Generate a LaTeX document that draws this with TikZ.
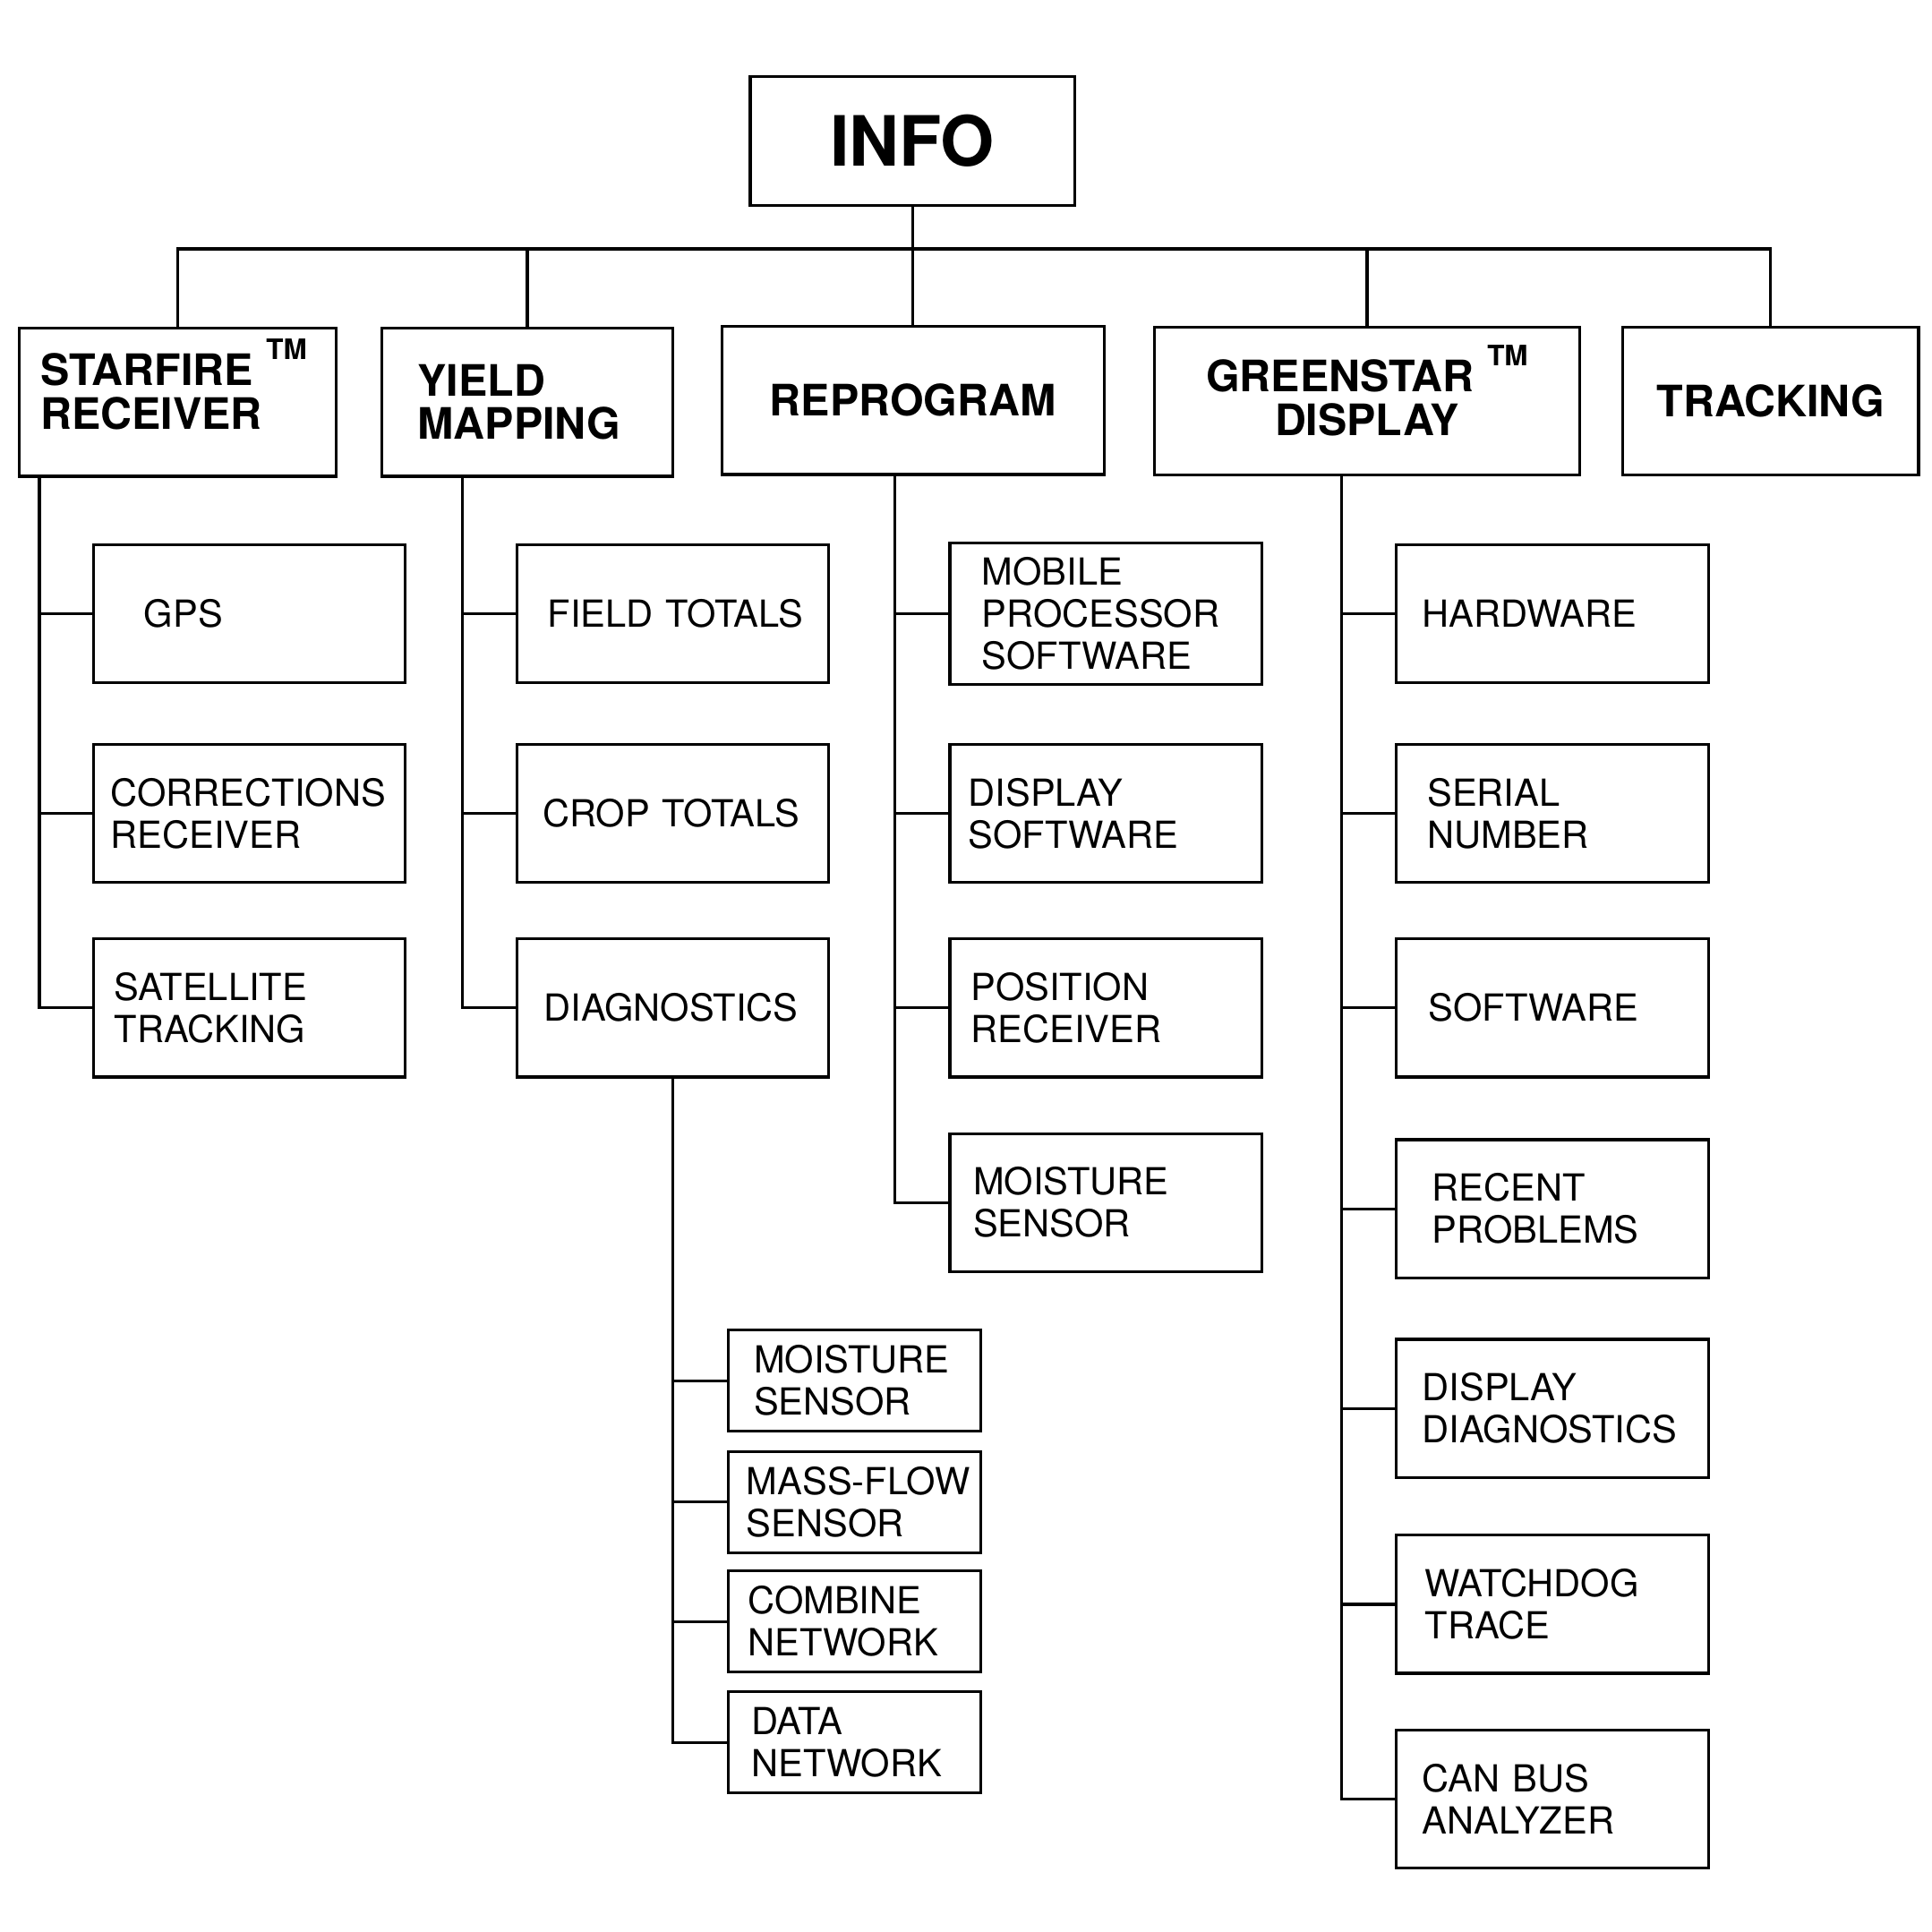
\documentclass[tikz,border=0pt]{standalone}
\usepackage{fontspec}
\setmainfont{TeX Gyre Heros}
\usetikzlibrary{positioning}
\hyphenpenalty=10000
\exhyphenpenalty=10000
\newcommand{\trademark}{\nobreak\hspace{0.3em}\raisebox{0.6em}[0pt][0pt]{\fontsize{6.5}{7}\selectfont TM}}

\begin{document}
\begin{tikzpicture}[
                x=0.01cm, y=-0.01cm, line width=0.65pt,
                topbox/.style={draw, minimum height=1.2cm, align=center, font=\fontsize{10}{10}\selectfont\bfseries},
                leftbox/.style={topbox, align=left, inner xsep=#1},
                leaf/.style={draw, minimum width=2.53cm, minimum height=1.12cm, inner xsep=#1, text width=2.53cm-2*#1, align=left, font=\fontsize{8.6}{9.7}\selectfont},
                subleaf/.style={leaf=#1, minimum width=2.05cm, minimum height=0.82cm, text width=2.05cm-2*#1}
            ]
                \useasboundingbox (0,0) rectangle (1568,1568);

                % root
                \node[draw, minimum width=2.63cm, minimum height=1.05cm, font=\fontsize{16}{16}\selectfont\bfseries] (info) at (740.5,114.5) {INFO};

                % first level
                \node[leftbox=0.17cm, minimum width=2.57cm, text width=2.23cm, text depth=0.53cm] (starfire) at (144.5,326.5) {STARFIRE\trademark\\RECEIVER};
                \node[leftbox=0.29cm, minimum width=2.36cm, text width=1.78cm] (yield) at (428,326.5) {YIELD\\MAPPING};
                \node[topbox, minimum width=3.10cm] (reprogram) at (741,325) {REPROGRAM};
                \node[topbox, minimum width=3.45cm, text depth=0.06cm] (greenstar) at (1109.5,325.5) {GREENSTAR\trademark\\DISPLAY};
                \node[topbox, minimum width=2.40cm] (tracking) at (1437,325.5) {TRACKING};

                \coordinate (bus) at (741,202);
                \draw (info.south) -- (info.south |- bus);
                \draw (starfire.north) |- (bus) -| (tracking.north);
                \foreach \n in {yield, reprogram, greenstar}
                    \draw (\n.north) -- (\n.north |- bus);

                % starfire receiver
                \node[leaf=0.41cm] (gps) at (202.5,498) {GPS};
                \node[leaf=0.14cm] (corrections) at (202.5,660) {CORRECTIONS\\RECEIVER};
                \node[leaf=0.17cm] (satellite) at (202.5,818) {SATELLITE\\TRACKING};

                % yield mapping
                \node[leaf=0.25cm] (field) at (546,498) {FIELD~TOTALS};
                \node[leaf=0.21cm] (crop) at (546,660) {CROP~TOTALS};
                \node[leaf=0.22cm] (diagnostics) at (546,818) {DIAGNOSTICS};

                % diagnostics
                \node[subleaf=0.21cm] (dgmoisture) at (693.5,1120.5) {MOISTURE\\SENSOR};
                \node[subleaf=0.15cm] (massflow) at (693.5,1219) {MASS-FLOW\\SENSOR};
                \node[subleaf=0.16cm] (combine) at (693.5,1316) {COMBINE\\NETWORK};
                \node[subleaf=0.19cm] (datanet) at (693.5,1414) {DATA\\NETWORK};

                % reprogram
                \node[leaf=0.26cm] (mobile) at (897.5,498) {MOBILE\\PROCESSOR\\SOFTWARE};
                \node[leaf=0.15cm] (dispsw) at (897.5,660) {DISPLAY\\SOFTWARE};
                \node[leaf=0.17cm] (position) at (897.5,818) {POSITION\\RECEIVER};
                \node[leaf=0.19cm] (rpmoisture) at (897.5,976) {MOISTURE\\SENSOR};

                % greenstar display
                \node[leaf=0.21cm] (hardware) at (1260,498) {HARDWARE};
                \node[leaf=0.25cm] (serial) at (1260,660) {SERIAL\\NUMBER};
                \node[leaf=0.26cm] (software) at (1260,818) {SOFTWARE};
                \node[leaf=0.29cm] (recent) at (1260,981) {RECENT\\PROBLEMS};
                \node[leaf=0.21cm] (dispdiag) at (1260,1143) {DISPLAY\\DIAGNOSTICS};
                \node[leaf=0.23cm] (watchdog) at (1260,1302) {WATCHDOG\\TRACE};
                \node[leaf=0.21cm] (canbus) at (1260,1460) {CAN~BUS\\ANALYZER};

                % branches
                \coordinate (sftrunk) at (32,386);
                \coordinate (ymtrunk) at (375,386);
                \coordinate (rptrunk) at (726,385);
                \coordinate (gstrunk) at (1089,386);
                \foreach \n in {gps, corrections, satellite}
                    \draw (sftrunk) |- (\n.west);
                \foreach \n in {field, crop, diagnostics}
                    \draw (ymtrunk) |- (\n.west);
                \foreach \n in {mobile, dispsw, position, rpmoisture}
                    \draw (rptrunk) |- (\n.west);
                \foreach \n in {hardware, serial, software, recent, dispdiag, watchdog, canbus}
                    \draw (gstrunk) |- (\n.west);
                \foreach \n in {dgmoisture, massflow, combine, datanet}
                    \draw (diagnostics.south) |- (\n.west);
            \end{tikzpicture}
\end{document}
